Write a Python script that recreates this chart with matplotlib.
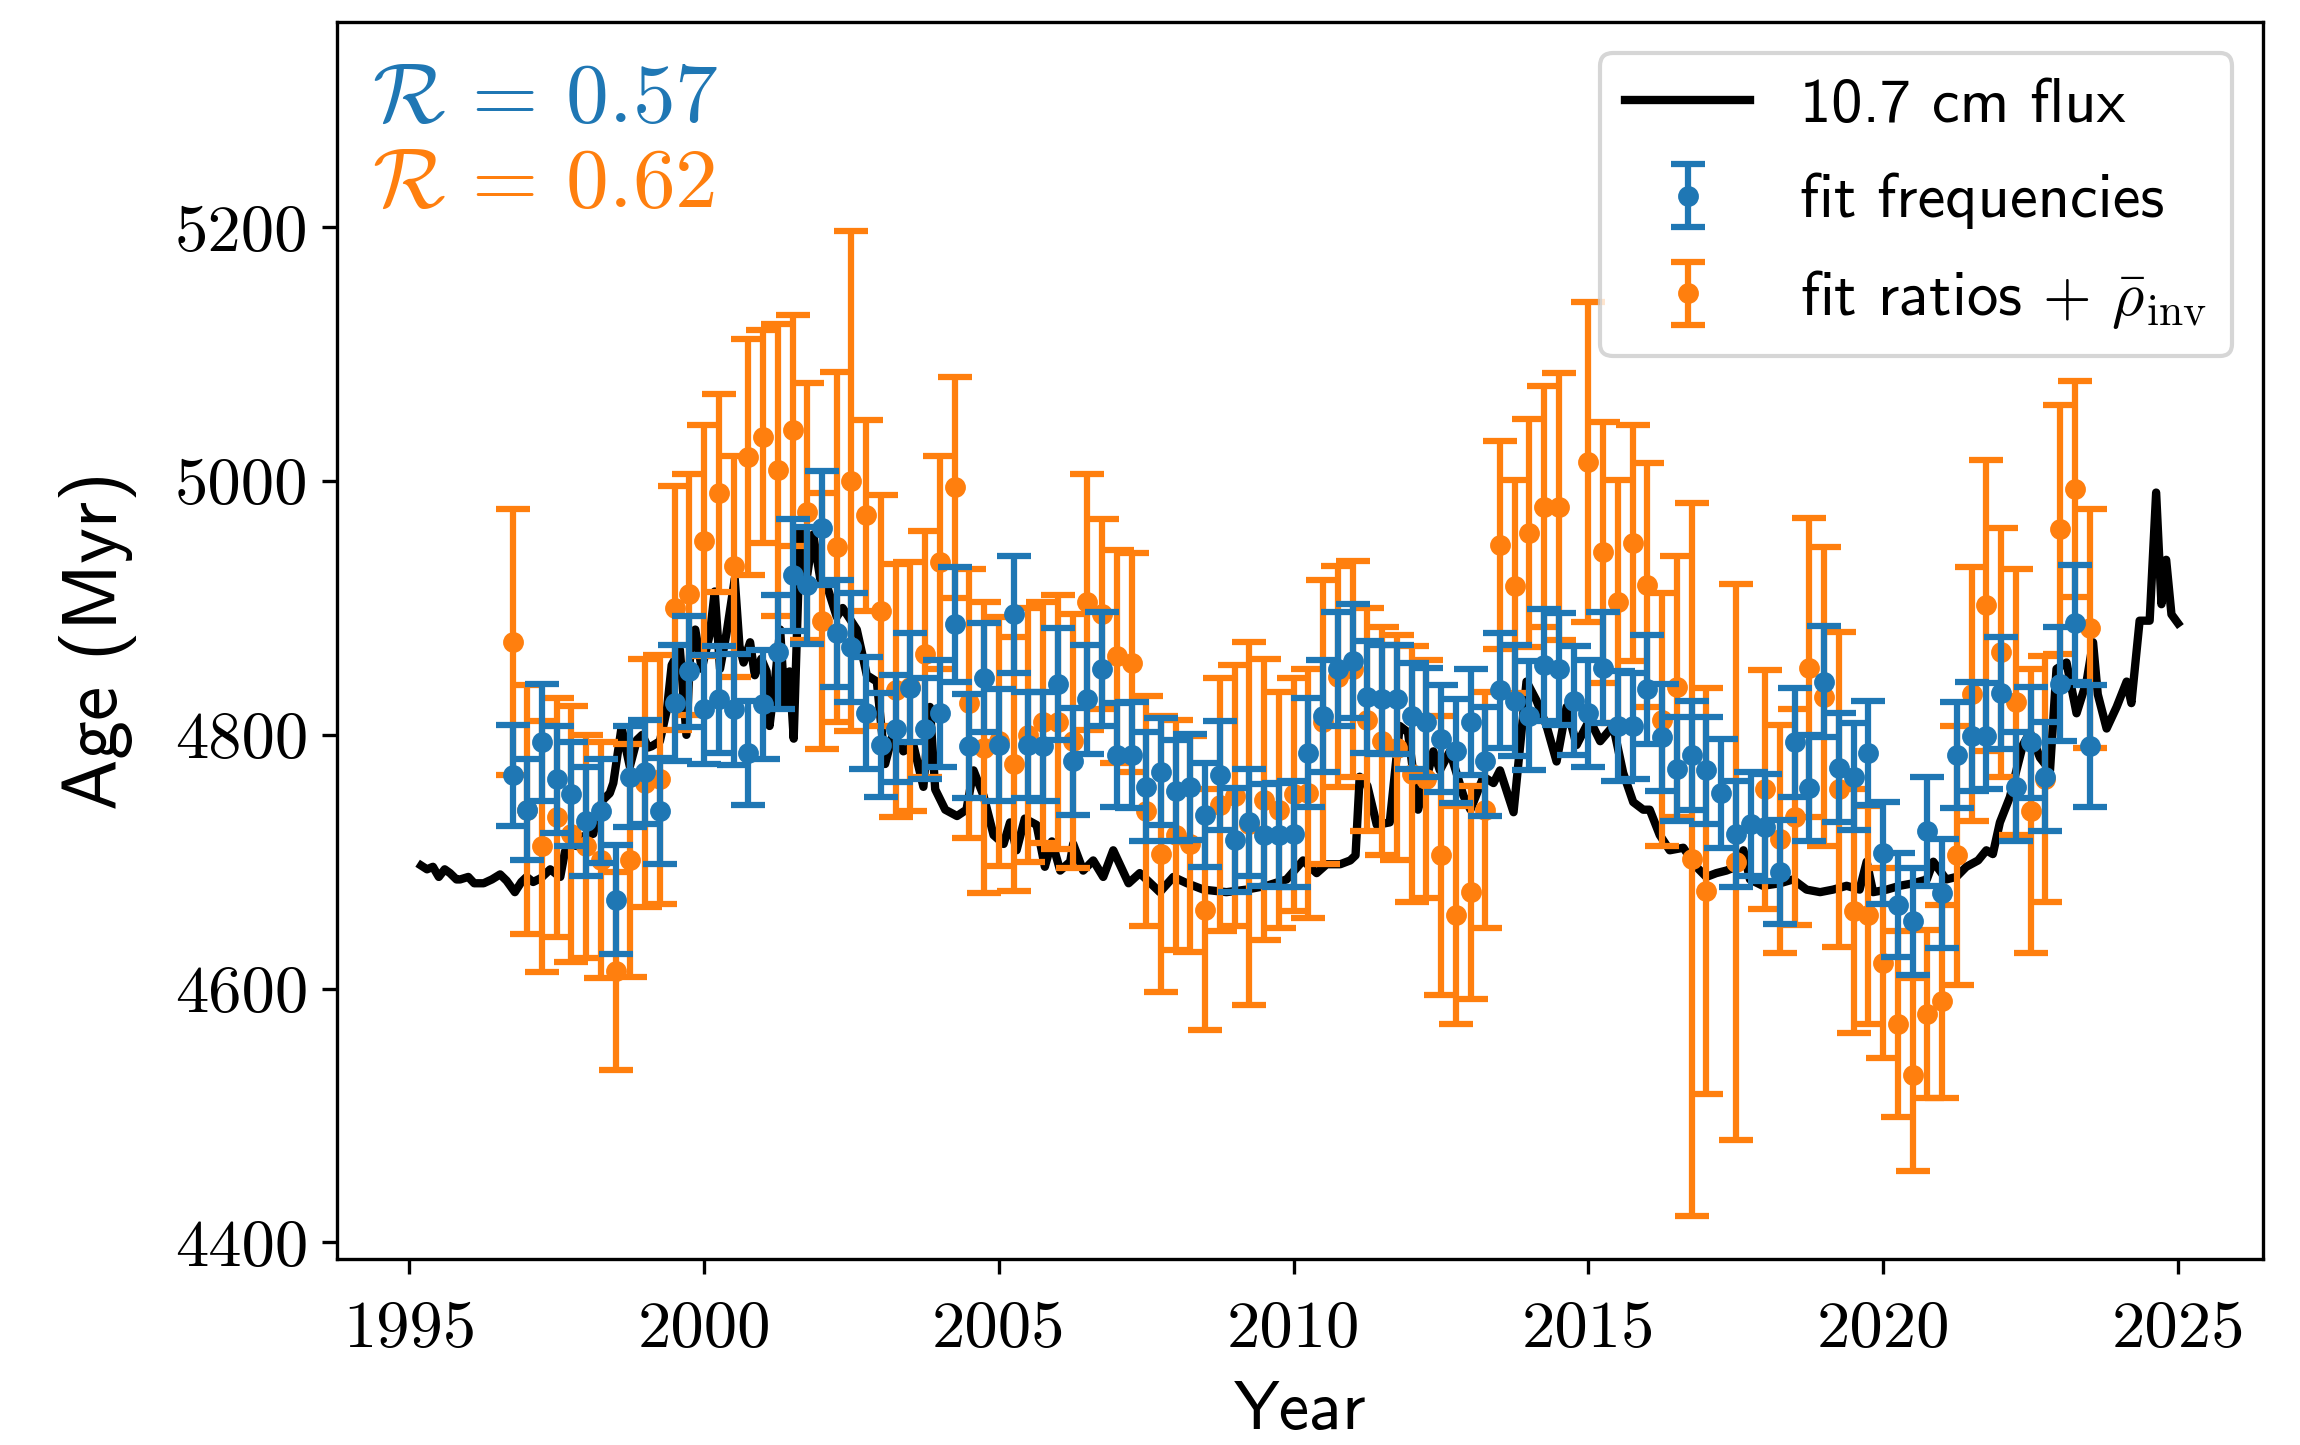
import numpy as np
import matplotlib
matplotlib.use("Agg")
import matplotlib.pyplot as plt

plt.rcParams['mathtext.fontset'] = 'cm'

# ---------------- data ----------------
# quarterly fit epochs
years = np.arange(1996.75, 2023.75, 0.25)

# fit frequencies (blue)
freq_age = [
    4768,
    4741, 4794, 4765, 4753,
    4732, 4740, 4670, 4767,
    4771, 4740, 4825, 4850,
    4820, 4828, 4820, 4786,
    4824, 4865, 4926, 4918,
    4963, 4880, 4869, 4817,
    4792, 4805, 4837, 4805,
    4817, 4887, 4791, 4845,
    4792, 4895, 4792, 4791,
    4840, 4779, 4828, 4852,
    4784, 4784, 4759, 4771,
    4756, 4759, 4737, 4768,
    4717, 4731, 4721, 4721,
    4722, 4786, 4815, 4852,
    4858, 4830, 4828, 4828,
    4815, 4810, 4797, 4787,
    4810, 4779, 4835, 4827,
    4815, 4855, 4852, 4827,
    4817, 4853, 4807, 4807,
    4836, 4798, 4773, 4784,
    4772, 4754, 4722, 4730,
    4727, 4692, 4794, 4758,
    4842, 4774, 4767, 4786,
    4707, 4666, 4653, 4724,
    4675, 4784, 4799, 4799,
    4833, 4759, 4794, 4767,
    4840, 4888, 4791,
]
freq_err = [
    40,
    40, 46, 42, 41,
    43, 41, 43, 40,
    41, 42, 46, 44,
    43, 42, 44, 41,
    43, 45, 44, 46,
    45, 42, 43, 44,
    41, 42, 43, 40,
    42, 45, 41, 43,
    44, 46, 42, 43,
    44, 42, 43, 45,
    41, 42, 43, 42,
    40, 42, 41, 43,
    41, 42, 40, 41,
    42, 43, 44, 45,
    45, 44, 43, 43,
    42, 43, 42, 41,
    42, 43, 45, 44,
    43, 44, 44, 43,
    42, 44, 43, 42,
    43, 42, 41, 43,
    42, 43, 42, 41,
    42, 41, 43, 42,
    44, 43, 42, 41,
    40, 41, 42, 43,
    43, 42, 43, 42,
    44, 43, 44, 43,
    45, 46, 48,
]

# fit ratios + rho_inv (orange); nan = no point
nan = np.nan
ratio_age = [
    4873,
    4741, 4712, 4735, 4722,
    4712, 4701, 4614, 4701,
    4762, 4765, 4900, 4911,
    4953, 4991, 4933, 5019,
    5035, 5009, 5040, 4976,
    4890, 4948, 5000, 4973,
    4898, 4835, 4838, 4864,
    4936, 4995, 4825, 4790,
    4795, 4777, 4800, 4810,
    4810, 4795, 4905, 4895,
    4862, 4857, 4740, 4706,
    4721, 4714, 4662, 4745,
    4752, 4730, 4749, 4741,
    4753, 4754, 4810, 4846,
    4852, 4812, 4795, 4790,
    4769, 4765, 4705, 4658,
    4676, 4741, 4950, 4917,
    4959, 4980, 4980, nan,
    5015, 4944, 4905, 4951,
    4918, 4812, 4838, 4702,
    4677, nan, 4700, nan,
    4757, 4718, 4735, 4853,
    4830, 4757, 4661, 4658,
    4620, 4572, 4532, 4580,
    4590, 4705, 4832, 4902,
    4865, 4826, 4740, 4765,
    4962, 4994, 4884,
]
ratio_err = [
    105,
    98, 99, 94, 101,
    88, 93, 78, 92,
    98, 98, 96, 95,
    91, 78, 87, 93,
    84, 115, 91, 101,
    101, 138, 197, 75,
    91, 100, 98, 97,
    84, 87, 106, 115,
    98, 100, 100, 95,
    100, 100, 101, 75,
    84, 86, 91, 109,
    91, 85, 95, 100,
    103, 143, 111, 93,
    92, 98, 112, 87,
    85, 88, 90, 89,
    101, 94, 110, 86,
    84, 93, 82, 84,
    90, 95, 105, 100,
    126, 103, 96, 93,
    96, 100, 103, 281,
    160, 100, 219, 90,
    94, 90, 85, 118,
    118, 124, 96, 86,
    75, 73, 76, 66,
    76, 102, 100, 115,
    98, 105, 112, 97,
    98, 85, 94,
]

# 10.7 cm radio flux, rescaled to the age axis
flux_year = [
    1995.20, 1995.30, 1995.40, 1995.50, 1995.60, 1995.69, 1995.80, 1995.86,
    1996.00, 1996.10, 1996.26, 1996.40, 1996.54, 1996.65, 1996.79, 1996.90,
    1996.99, 1997.10, 1997.23, 1997.39, 1997.50, 1997.56, 1997.64, 1997.78,
    1997.88, 1997.95, 1998.12, 1998.20, 1998.29, 1998.40, 1998.46, 1998.60,
    1998.67, 1998.74, 1998.86, 1998.95, 1999.05, 1999.11, 1999.25, 1999.37,
    1999.45, 1999.59, 1999.70, 1999.78, 1999.85, 1999.96, 2000.10, 2000.18,
    2000.27, 2000.38, 2000.52, 2000.60, 2000.67, 2000.78, 2000.86, 2000.97,
    2001.06, 2001.11, 2001.20, 2001.29, 2001.37, 2001.45, 2001.52, 2001.63,
    2001.74, 2001.85, 2001.97, 2002.08, 2002.25, 2002.35, 2002.45, 2002.59,
    2002.70, 2002.76, 2002.93, 2003.07, 2003.21, 2003.38, 2003.55, 2003.72,
    2003.83, 2003.92, 2004.09, 2004.29, 2004.45, 2004.57, 2004.74, 2004.91,
    2005.08, 2005.19, 2005.30, 2005.44, 2005.64, 2005.78, 2005.90, 2006.04,
    2006.21, 2006.26, 2006.43, 2006.60, 2006.77, 2006.94, 2007.20, 2007.39,
    2007.55, 2007.73, 2007.96, 2008.19, 2008.47, 2008.86, 2009.20, 2009.54,
    2009.88, 2010.16, 2010.39, 2010.56, 2010.79, 2010.96, 2011.05, 2011.12,
    2011.25, 2011.41, 2011.63, 2011.80, 2011.94, 2012.11, 2012.26, 2012.37,
    2012.48, 2012.65, 2012.88, 2013.00, 2013.22, 2013.39, 2013.50, 2013.73,
    2013.95, 2014.12, 2014.29, 2014.46, 2014.63, 2014.80, 2015.02, 2015.20,
    2015.42, 2015.59, 2015.76, 2015.93, 2016.04, 2016.21, 2016.38, 2016.61,
    2016.83, 2017.00, 2017.17, 2017.34, 2017.51, 2017.63, 2017.74, 2017.96,
    2018.25, 2018.47, 2018.70, 2018.93, 2019.15, 2019.38, 2019.60, 2019.72,
    2019.83, 2020.06, 2020.28, 2020.51, 2020.74, 2020.85, 2021.07, 2021.24,
    2021.41, 2021.61, 2021.75, 2021.86, 2021.98, 2022.15, 2022.26, 2022.37,
    2022.49, 2022.66, 2022.83, 2022.94, 2023.11, 2023.28, 2023.45, 2023.56,
    2023.64, 2023.79, 2023.96, 2024.13, 2024.21, 2024.35, 2024.52, 2024.63,
    2024.72, 2024.80, 2024.89, 2025.00,
]
flux_age = [
    4697, 4694, 4696, 4688, 4694, 4691, 4686, 4686,
    4688, 4683, 4683, 4686, 4690, 4685, 4676, 4684,
    4688, 4684, 4687, 4694, 4690, 4688, 4708, 4713,
    4712, 4720, 4722, 4740, 4749, 4754, 4762, 4806,
    4790, 4775, 4796, 4800, 4790, 4791, 4795, 4820,
    4855, 4867, 4800, 4880, 4883, 4852, 4880, 4913,
    4852, 4880, 4923, 4870, 4857, 4873, 4847, 4860,
    4850, 4807, 4842, 4883, 4822, 4850, 4797, 4963,
    4923, 4958, 4923, 4918, 4893, 4900, 4893, 4883,
    4860, 4847, 4842, 4777, 4802, 4787, 4792, 4759,
    4822, 4757, 4741, 4736, 4741, 4772, 4752, 4721,
    4714, 4731, 4709, 4734, 4729, 4696, 4716, 4693,
    4700, 4714, 4693, 4701, 4688, 4709, 4683, 4691,
    4684, 4676, 4688, 4683, 4678, 4676, 4678, 4681,
    4686, 4701, 4691, 4698, 4698, 4701, 4705, 4767,
    4760, 4729, 4731, 4807, 4802, 4741, 4767, 4787,
    4772, 4787, 4752, 4741, 4767, 4762, 4772, 4739,
    4842, 4827, 4807, 4779, 4822, 4792, 4812, 4795,
    4807, 4770, 4747, 4741, 4741, 4721, 4709, 4711,
    4696, 4688, 4691, 4693, 4696, 4709, 4686, 4681,
    4683, 4686, 4678, 4676, 4678, 4681, 4678, 4700,
    4676, 4678, 4681, 4683, 4686, 4700, 4686, 4688,
    4696, 4701, 4709, 4706, 4731, 4751, 4772, 4792,
    4802, 4782, 4772, 4852, 4857, 4817, 4842, 4873,
    4832, 4805, 4822, 4842, 4825, 4890, 4890, 4991,
    4903, 4938, 4895, 4888,
]

r_freq = 0.57
r_ratio = 0.62
xticks = [1995, 2000, 2005, 2010, 2015, 2020, 2025]
yticks = [4400, 4600, 4800, 5000, 5200]

# ---------------- plot ----------------
BLUE = '#1f77b4'
ORANGE = '#ff7f0e'

fig = plt.figure(figsize=(2300 / 300, 1445 / 300), dpi=300)
ax = fig.add_axes([0.1467, 0.1289, 0.8374, 0.8559])

line, = ax.plot(flux_year, flux_age, color='k', lw=2, zorder=2)
eo = ax.errorbar(years, ratio_age, yerr=ratio_err, fmt='o', color=ORANGE,
                 ms=4, capsize=4, capthick=1.5, elinewidth=1.5, zorder=2.5)
eb = ax.errorbar(years, freq_age, yerr=freq_err, fmt='o', color=BLUE,
                 ms=4, capsize=4, capthick=1.5, elinewidth=1.5, zorder=3)

ax.set_xlim(1993.78, 2026.45)
ax.set_ylim(4387, 5362)
ax.set_xticks(xticks)
ax.set_yticks(yticks)
ax.tick_params(labelsize=16, labelfontfamily='cmr10')
ax.tick_params(axis='x', pad=6.5)

ax.set_xlabel('Year', fontsize=16.5, fontfamily='cmss10', labelpad=5)
ax.set_ylabel('Age (Myr)', fontsize=18.5, fontfamily='cmss10', labelpad=9)

ax.text(0.018, 0.9194, r'$\mathcal{R}\,=\,%.2f$' % r_freq, transform=ax.transAxes,
        color=BLUE, fontsize=20.5, ha='left', va='baseline')
ax.text(0.018, 0.8506, r'$\mathcal{R}\,=\,%.2f$' % r_ratio, transform=ax.transAxes,
        color=ORANGE, fontsize=20.5, ha='left', va='baseline')

ax.legend([line, eb, eo],
          ['10.7 cm flux', 'fit frequencies',
           r'fit ratios $+$ $\bar{\rho}_{\mathrm{inv}}$'],
          loc='upper right', prop={'family': 'cmss10', 'size': 15},
          labelspacing=0.62)

fig.savefig('out.png', dpi=300)
